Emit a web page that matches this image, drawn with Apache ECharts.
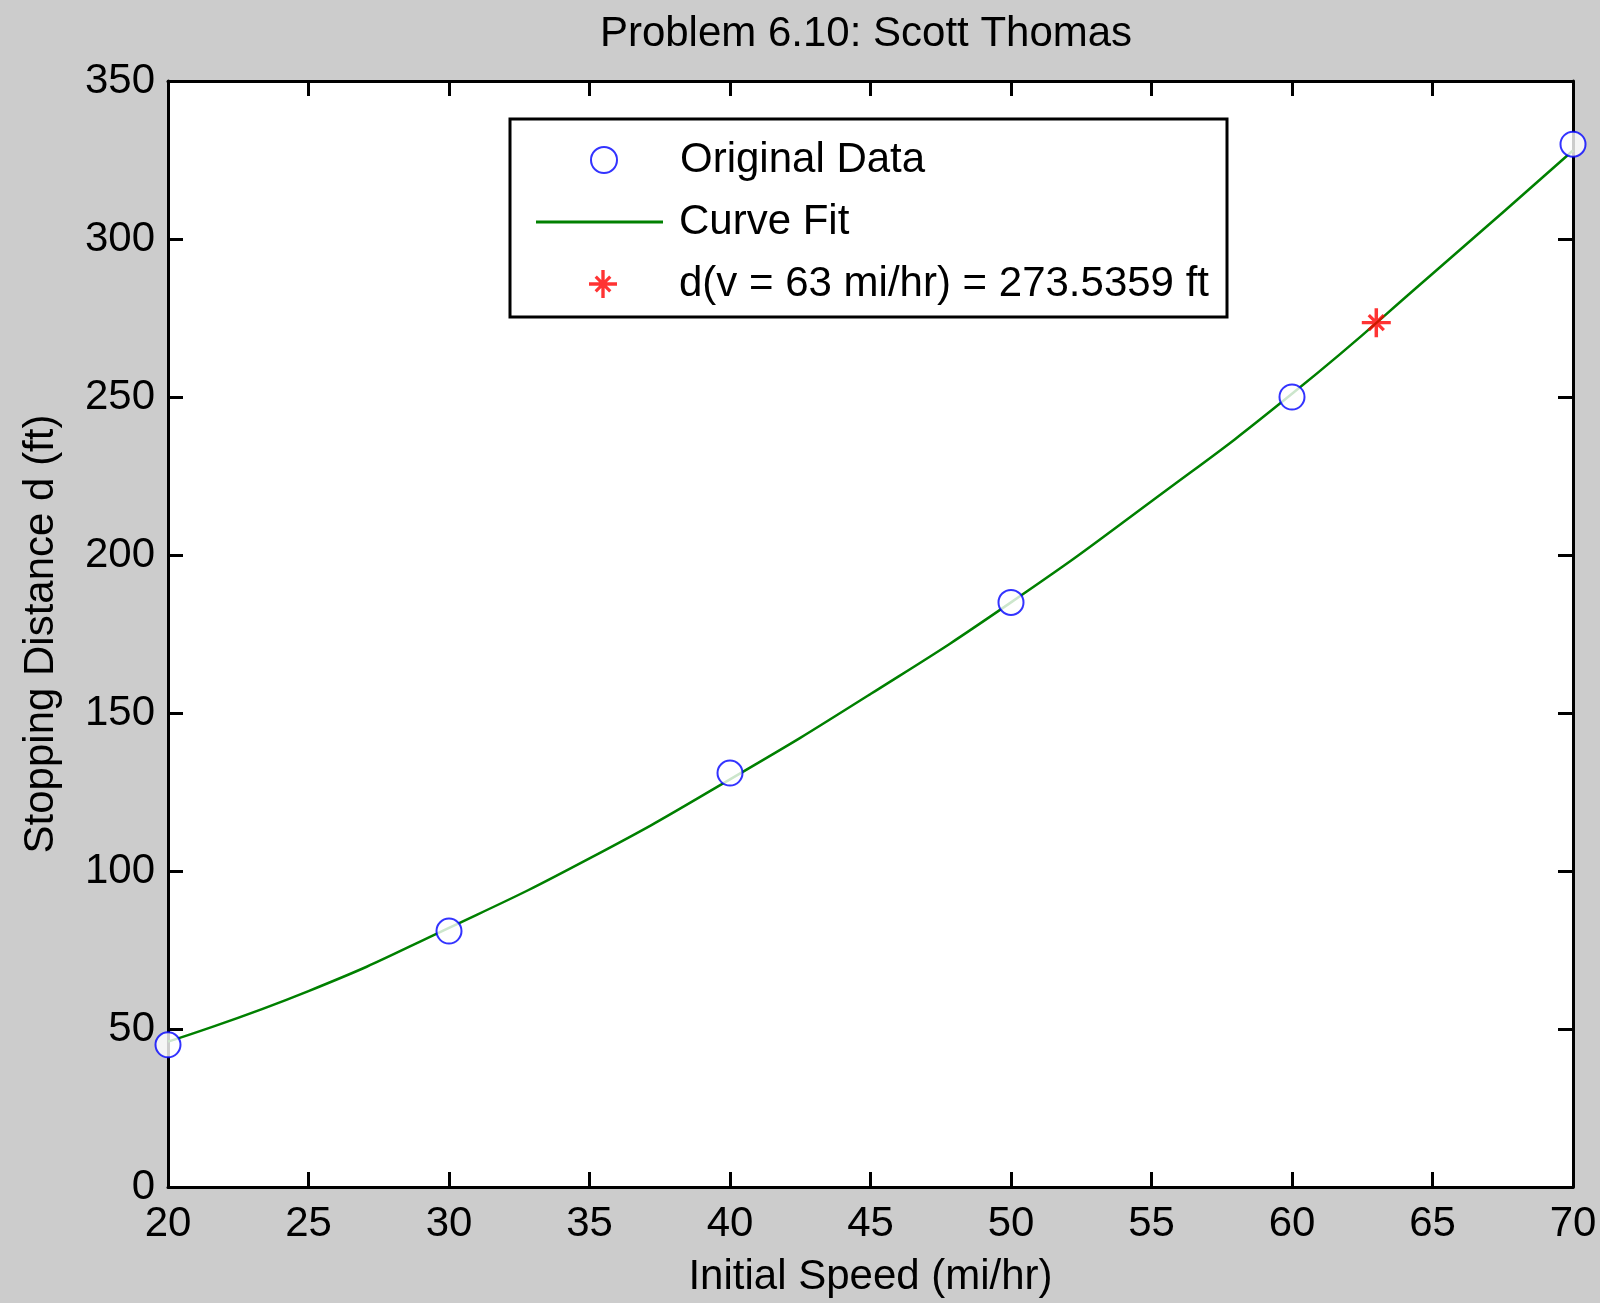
<!DOCTYPE html>
<html>
<head>
<meta charset="utf-8">
<title>Problem 6.10</title>
<script src="https://cdn.jsdelivr.net/npm/echarts@6/dist/echarts.min.js"></script>
<style>
  html, body { margin: 0; padding: 0; background: #cccccc; }
  #main { width: 1600px; height: 1303px; }
</style>
</head>
<body>
<div id="main"></div>
<script>
// data
var speeds = [20, 30, 40, 50, 60, 70];
var distances = [45, 81, 131, 185, 250, 330];

var fitSpeeds = [20, 25, 30, 35, 40, 45, 50, 55, 60, 65, 70];
var fitDistances = [46, 62, 82, 104, 129, 156, 185, 217, 251, 289, 328];

var predSpeed = 63;
var predDistance = 273.5359;

var xTicks = { min: 20, max: 70, interval: 5 };
var yTicks = { min: 0, max: 350, interval: 50 };

var font = "'Liberation Sans', Arial, sans-serif";

// asterisk marker (MATLAB '*')
var starPath = "path://M44 0L56 0L56 100L44 100Z M0 44L100 44L100 56L0 56Z " +
  "M20 28L28 20L80 72L72 80Z M72 20L80 28L28 80L20 72Z";

var myChart = echarts.init(document.getElementById("main"));

function pairs(xs, ys) {
  return xs.map(function (x, i) { return [x, ys[i]]; });
}

function mkX(pos, labels) {
  return {
    type: "value",
    position: pos,
    min: xTicks.min,
    max: xTicks.max,
    interval: xTicks.interval,
    axisLine: { show: true, onZero: false, lineStyle: { color: "#000", width: 3 } },
    axisTick: { show: true, inside: true, length: 15, lineStyle: { color: "#000", width: 3 } },
    axisLabel: { show: labels, margin: 16, color: "#000", fontSize: 42, fontFamily: font },
    splitLine: { show: false }
  };
}

function mkY(pos, labels) {
  return {
    type: "value",
    position: pos,
    min: yTicks.min,
    max: yTicks.max,
    interval: yTicks.interval,
    axisLine: { show: true, onZero: false, lineStyle: { color: "#000", width: 3 } },
    axisTick: { show: true, inside: true, length: 15, lineStyle: { color: "#000", width: 3 } },
    axisLabel: { show: labels, margin: 13, color: "#000", fontSize: 42, fontFamily: font },
    splitLine: { show: false }
  };
}

var xBottom = mkX("bottom", true);
xBottom.name = "Initial Speed (mi/hr)";
xBottom.nameLocation = "middle";
xBottom.nameGap = 69;
xBottom.nameTextStyle = { color: "#000", fontSize: 42, fontFamily: font };

var yLeft = mkY("left", true);
yLeft.name = "Stopping Distance d (ft)";
yLeft.nameLocation = "middle";
yLeft.nameGap = 106;
yLeft.nameTextStyle = { color: "#000", fontSize: 42, fontFamily: font };

// one legend per row so each can sit where the original puts it
function mkLegend(name, left, top, w, h, padLeft, icon) {
  var lg = {
    data: [name],
    left: left,
    top: top,
    padding: 0,
    itemWidth: w,
    itemHeight: h,
    z: 5,
    textStyle: { color: "#000", fontSize: 42, fontFamily: font, padding: [0, 0, 0, padLeft] }
  };
  if (icon) lg.icon = icon;
  return lg;
}

var option = {
  backgroundColor: "#cccccc",
  animation: false,
  title: {
    text: "Problem 6.10: Scott Thomas",
    left: 861,
    textAlign: "center",
    top: 8,
    textStyle: { color: "#000", fontSize: 42, fontWeight: "normal", fontFamily: font }
  },
  grid: {
    left: 168,
    top: 81,
    right: 27,
    bottom: 113,
    show: true,
    backgroundColor: "#fff",
    borderWidth: 0
  },
  graphic: [
    {
      type: "rect",
      z: 3,
      shape: { x: 510, y: 119, width: 717, height: 198 },
      style: { fill: "#fff", stroke: "#000", lineWidth: 3 }
    }
  ],
  legend: [
    mkLegend("Original Data", 590, 139, 26, 26, 58),
    mkLegend("Curve Fit", 536, 201, 127, 3, 11, "rect"),
    mkLegend("d(v = 63 mi/hr) = 273.5359 ft", 589, 263, 28, 28, 57)
  ],
  xAxis: [xBottom, mkX("top", false)],
  yAxis: [yLeft, mkY("right", false)],
  series: [
    {
      name: "Curve Fit",
      type: "line",
      data: pairs(fitSpeeds, fitDistances),
      smooth: true,
      symbol: "none",
      showSymbol: false,
      lineStyle: { color: "#008000", width: 2.5 },
      itemStyle: { color: "#008000" },
      z: 2
    },
    {
      name: "Original Data",
      type: "scatter",
      data: pairs(speeds, distances),
      symbol: "emptyCircle",
      symbolSize: 25,
      itemStyle: { color: "#0000ff", borderColor: "#0000ff", borderWidth: 3 },
      z: 3
    },
    {
      name: "d(v = 63 mi/hr) = 273.5359 ft",
      type: "scatter",
      data: [[predSpeed, predDistance]],
      symbol: starPath,
      symbolSize: 29,
      itemStyle: { color: "#ff0000" },
      z: 4
    }
  ]
};

myChart.setOption(option);
</script>
</body>
</html>
